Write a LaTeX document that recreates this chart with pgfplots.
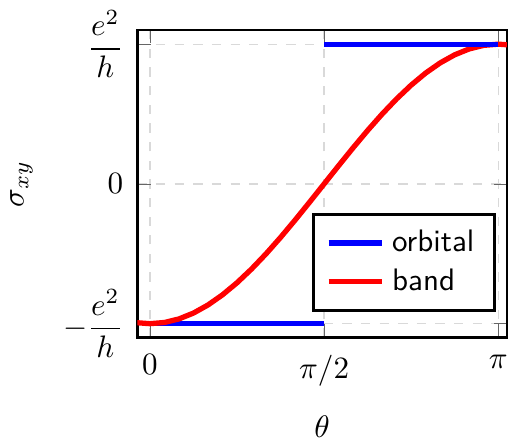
\documentclass[border=0pt]{standalone}
\usepackage{amsmath}
\usepackage{pgfplots}
\pgfplotsset{compat=1.18}
\begin{document}
\begin{tikzpicture}
\begin{axis}[
  scale only axis,
  width=119pt, height=99pt,
  xmin=-0.114, xmax=3.22,
  ymin=-1.1, ymax=1.1,
  axis line style={thick},
  xtick={0,1.5708,3.1416},
  xticklabels={$0$,$\pi/2$,$\pi$},
  ytick={-1,0,1},
  yticklabels={$-\dfrac{e^2}{h}$,$0$,$\dfrac{e^2}{h}$},
  xticklabel style={yshift=-2pt},
  yticklabel style={xshift=-1pt},
  grid=major,
  grid style={dashed, black!15},
  tick style={black!60},
  xlabel={$\theta$},
  ylabel={$\sigma_{xy}$},
  ylabel shift=3pt,
  xlabel style={inner sep=1pt},
  xlabel shift=5pt,
  legend style={at={(0.97,0.085)}, anchor=south east, font=\sffamily,
    draw=black, thick, row sep=0pt, inner xsep=4pt, inner ysep=3pt,
    nodes={inner xsep=2.5pt, inner ysep=2pt}},
  legend cell align=left,
]
\addplot[blue, line width=1.7pt] coordinates {(0,-1) (1.5708,-1)};
\addlegendentry{orbital}
\addplot[red, line width=1.7pt] coordinates {
  (-0.12,-0.993) (0,-1) (0.1309,-0.9914) (0.2618,-0.9659) (0.3927,-0.9239)
  (0.5236,-0.8660) (0.6545,-0.7934) (0.7854,-0.7071) (0.9163,-0.6088)
  (1.0472,-0.5) (1.1781,-0.3827) (1.3090,-0.2588) (1.4399,-0.1305)
  (1.5708,0) (1.7017,0.1305) (1.8326,0.2588) (1.9635,0.3827)
  (2.0944,0.5) (2.2253,0.6088) (2.3562,0.7071) (2.4871,0.7934)
  (2.6180,0.8660) (2.7489,0.9239) (2.8798,0.9659) (3.0107,0.9914)
  (3.1416,1) (3.25,0.994)
};
\addlegendentry{band}
\addplot[blue, line width=1.7pt, forget plot] coordinates {(1.5708,1) (3.1416,1)};
\end{axis}
\end{tikzpicture}
\end{document}
